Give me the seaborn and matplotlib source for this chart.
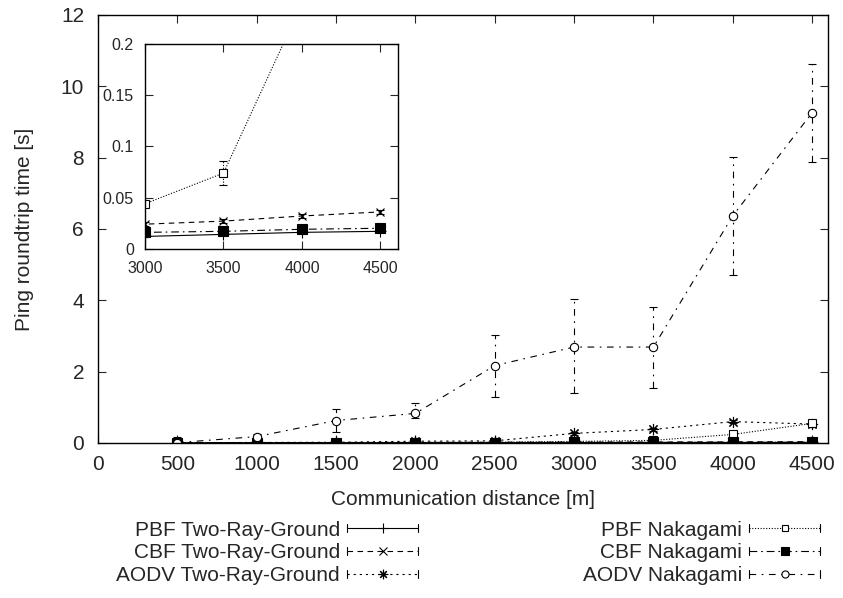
import numpy as np
import pandas as pd
import matplotlib
matplotlib.use("Agg")
import matplotlib.pyplot as plt
import seaborn as sns
from matplotlib.lines import Line2D
from matplotlib.legend_handler import HandlerBase

# ---------------- data ----------------
distance = [500, 1000, 1500, 2000, 2500, 3000, 3500, 4000, 4500]

series_names = ["PBF Two-Ray-Ground", "CBF Two-Ray-Ground", "AODV Two-Ray-Ground",
                "PBF Nakagami", "CBF Nakagami", "AODV Nakagami"]

pbf_trg = [0.005, 0.006, 0.007, 0.008, 0.009, 0.012, 0.014, 0.016, 0.017]
pbf_trg_lo = [0.004, 0.005, 0.006, 0.007, 0.008, 0.011, 0.013, 0.015, 0.016]
pbf_trg_hi = [0.006, 0.007, 0.008, 0.009, 0.010, 0.013, 0.015, 0.017, 0.018]

cbf_trg = [0.010, 0.012, 0.014, 0.016, 0.020, 0.024, 0.027, 0.032, 0.036]
cbf_trg_lo = [0.009, 0.011, 0.013, 0.015, 0.018, 0.022, 0.025, 0.030, 0.034]
cbf_trg_hi = [0.011, 0.013, 0.015, 0.017, 0.022, 0.026, 0.029, 0.034, 0.038]

aodv_trg = [0.010, 0.015, 0.020, 0.050, 0.060, 0.27, 0.38, 0.60, 0.53]
aodv_trg_lo = [0.008, 0.012, 0.015, 0.030, 0.040, 0.23, 0.33, 0.55, 0.48]
aodv_trg_hi = [0.012, 0.018, 0.025, 0.070, 0.080, 0.31, 0.43, 0.65, 0.58]

pbf_nak = [0.005, 0.008, 0.010, 0.015, 0.020, 0.044, 0.074, 0.24, 0.55]
pbf_nak_lo = [0.004, 0.007, 0.009, 0.013, 0.017, 0.041, 0.062, 0.21, 0.45]
pbf_nak_hi = [0.006, 0.009, 0.011, 0.017, 0.023, 0.047, 0.086, 0.29, 0.65]

cbf_nak = [0.008, 0.009, 0.010, 0.012, 0.014, 0.016, 0.017, 0.019, 0.020]
cbf_nak_lo = [0.007, 0.008, 0.009, 0.011, 0.013, 0.015, 0.016, 0.018, 0.019]
cbf_nak_hi = [0.009, 0.010, 0.011, 0.013, 0.015, 0.017, 0.018, 0.020, 0.021]

aodv_nak = [0.01, 0.18, 0.63, 0.83, 2.17, 2.69, 2.69, 6.37, 9.26]
aodv_nak_lo = [0.00, 0.12, 0.32, 0.71, 1.30, 1.39, 1.53, 4.71, 7.89]
aodv_nak_hi = [0.18, 0.24, 0.94, 1.13, 3.03, 4.03, 3.80, 8.01, 10.64]

x_ticks = [0, 500, 1000, 1500, 2000, 2500, 3000, 3500, 4000, 4500]
y_ticks = [0, 2, 4, 6, 8, 10, 12]
inset_x_ticks = [3000, 3500, 4000, 4500]
inset_y_ticks = [0, 0.05, 0.1, 0.15, 0.2]
inset_y_labels = ["0", "0.05", "0.1", "0.15", "0.2"]

values = [pbf_trg, cbf_trg, aodv_trg, pbf_nak, cbf_nak, aodv_nak]
lows = [pbf_trg_lo, cbf_trg_lo, aodv_trg_lo, pbf_nak_lo, cbf_nak_lo, aodv_nak_lo]
highs = [pbf_trg_hi, cbf_trg_hi, aodv_trg_hi, pbf_nak_hi, cbf_nak_hi, aodv_nak_hi]

df = pd.concat([
    pd.DataFrame({"distance": distance, "rtt": v, "lo": lo, "hi": hi, "series": name})
    for name, v, lo, hi in zip(series_names, values, lows, highs)
], ignore_index=True)

# ---------------- styles ----------------
LW = 0.8
styles = {
    "PBF Two-Ray-Ground": dict(ls="-", marker="+", ms=8, mfc="k"),
    "CBF Two-Ray-Ground": dict(ls=(0, (5, 4)), marker="x", ms=6, mfc="k"),
    "AODV Two-Ray-Ground": dict(ls=(0, (2, 3.5)), marker=(8, 2, 0), ms=8, mfc="k"),
    "PBF Nakagami": dict(ls=(0, (1, 1.5)), marker="s", ms=5.5, mfc="white"),
    "CBF Nakagami": dict(ls=(0, (7, 3.5, 1.5, 3.5)), marker="s", ms=6.5, mfc="k"),
    "AODV Nakagami": dict(ls=(0, (6, 5, 1.5, 5)), marker="o", ms=6, mfc="white"),
}

sns.set_style("ticks")
plt.rcParams["font.family"] = ["Liberation Sans", "DejaVu Sans"]

fig = plt.figure(figsize=(8.43, 5.98), dpi=100)
ax = fig.add_axes([98 / 843, 1 - 443 / 598, (828 - 98) / 843, (443 - 15) / 598])
ax_in = fig.add_axes([145 / 843, 1 - 248.7 / 598, (397.7 - 145) / 843, (248.7 - 44.3) / 598])


def draw(axis):
    for name in series_names:
        st = styles[name]
        sub = df[df["series"] == name]
        eb = axis.errorbar(sub["distance"], sub["rtt"],
                           yerr=[sub["rtt"] - sub["lo"], sub["hi"] - sub["rtt"]],
                           fmt="none", ecolor="k", elinewidth=LW, capsize=2.8, capthick=LW)
        for coll in eb[2]:
            coll.set_linestyle(st["ls"])
        sns.lineplot(data=sub, x="distance", y="rtt", ax=axis, color="k", lw=LW,
                     linestyle=st["ls"], marker=st["marker"], markersize=st["ms"],
                     markerfacecolor=st["mfc"], markeredgecolor="k",
                     markeredgewidth=LW, errorbar=None, legend=False)


draw(ax)
draw(ax_in)

# main axes
ax.set_xlim(0, 4600)
ax.set_ylim(0, 12)
ax.set_xticks(x_ticks)
ax.set_yticks(y_ticks)
ax.set_xlabel("Communication distance [m]", fontsize=15, labelpad=11)
ax.set_ylabel("Ping roundtrip time [s]", fontsize=15, labelpad=19)
ax.tick_params(direction="in", length=6, width=0.8, labelsize=15, top=True, right=True)
ax.tick_params(axis="x", pad=9)
ax.tick_params(axis="y", pad=10)
for s in ax.spines.values():
    s.set_linewidth(1.0)
    s.set_color("k")

# inset
ax_in.set_xlim(3000, 4610)
ax_in.set_ylim(0, 0.2)
ax_in.set_xticks(inset_x_ticks)
ax_in.set_yticks(inset_y_ticks)
ax_in.set_yticklabels(inset_y_labels)
ax_in.set_xlabel("")
ax_in.set_ylabel("")
ax_in.tick_params(direction="in", length=6, width=0.8, labelsize=11.5, top=True, right=True)
ax_in.tick_params(axis="x", pad=9)
ax_in.tick_params(axis="y", pad=8)
for s in ax_in.spines.values():
    s.set_linewidth(1.0)
    s.set_color("k")


# ---------------- legend (gnuplot-style keys) ----------------
class GnuHandler(HandlerBase):
    def create_artists(self, legend, orig, xdescent, ydescent, width, height, fontsize, trans):
        y = height / 2 - ydescent
        x0, x1 = -xdescent, -xdescent + width
        line = Line2D([x0, x1], [y, y])
        line.update_from(orig)
        line.set_marker("None")
        mk = Line2D([(x0 + x1) / 2], [y])
        mk.update_from(orig)
        mk.set_linestyle("None")
        h = height * 0.28
        c1 = Line2D([x0, x0], [y - h, y + h], color="k", lw=LW)
        c2 = Line2D([x1, x1], [y - h, y + h], color="k", lw=LW)
        arts = [line, mk, c1, c2]
        for a in arts:
            a.set_transform(trans)
        return arts


handles = []
for name in series_names:
    st = styles[name]
    handles.append(Line2D([], [], color="k", lw=LW, linestyle=st["ls"], marker=st["marker"],
                          markersize=st["ms"] * 0.85, markerfacecolor=st["mfc"],
                          markeredgecolor="k", markeredgewidth=LW))

leg_kw = dict(frameon=False, markerfirst=False, fontsize=15, handlelength=3.4,
              handletextpad=0.35, labelspacing=0.19, borderpad=0, borderaxespad=0,
              loc="center right", handler_map={Line2D: GnuHandler()})
leg1 = fig.legend(handles[:3], series_names[:3], bbox_to_anchor=(418 / 843, 1 - 553 / 598),
                  **leg_kw)
leg2 = fig.legend(handles[3:], series_names[3:], bbox_to_anchor=(820 / 843, 1 - 553 / 598),
                  **leg_kw)

fig.savefig("out.png", dpi=100)
